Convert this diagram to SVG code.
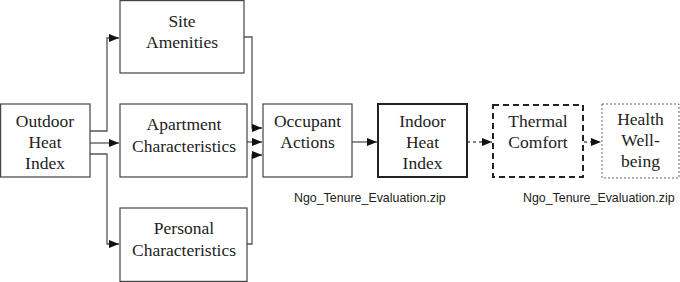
<svg xmlns="http://www.w3.org/2000/svg" width="680" height="282" viewBox="0 0 680 282">
<defs>
<marker id="ah" markerWidth="10" markerHeight="8" refX="10" refY="4" orient="auto" markerUnits="userSpaceOnUse">
<path d="M0,0 L10,4 L0,8 Z" fill="#111"/>
</marker>
<style>
.box{fill:#fff;stroke:#444;stroke-width:1.2}
.t{font-family:"Times New Roman","Liberation Serif",Tinos,"DejaVu Serif",serif;font-size:17.5px;fill:#222;text-anchor:middle}
.w{font-family:"Liberation Sans",Arial,sans-serif;font-size:12.4px;fill:#222}
.c{fill:none;stroke:#555;stroke-width:1.3}
.d{fill:none;stroke:#555;stroke-width:1.3;stroke-dasharray:3,3}
</style>
</defs>
<rect width="680" height="282" fill="#fff"/>
<g id="connectors">
<polyline class="c" points="90,131 107,131 107,38 119,38" marker-end="url(#ah)"/>
<polyline class="c" points="90,143 119,143" marker-end="url(#ah)"/>
<polyline class="c" points="90,154 107,154 107,244 119,244" marker-end="url(#ah)"/>
<polyline class="c" points="240,37 252,37 252,128 262,128" marker-end="url(#ah)"/>
<polyline class="c" points="239,142 262,142" marker-end="url(#ah)"/>
<polyline class="c" points="240,244 252,244 252,155 262,155" marker-end="url(#ah)"/>
<polyline class="c" points="352,142 377,142" marker-end="url(#ah)"/>
<polyline class="d" points="467,142 492,142" marker-end="url(#ah)"/>
<polyline class="d" points="584,142 601,142" marker-end="url(#ah)"/>
</g>
<g id="outdoor">
<rect class="box" x="0.6" y="104" width="89.4" height="73"/>
<text class="t" x="45" y="127">Outdoor</text>
<text class="t" x="45" y="148">Heat</text>
<text class="t" x="45" y="169">Index</text>
</g>
<g id="site">
<rect class="box" x="120" y="0.6" width="124" height="72.4"/>
<text class="t" x="182" y="27">Site</text>
<text class="t" x="182" y="48">Amenities</text>
</g>
<g id="apartment">
<rect class="box" x="120" y="104" width="127" height="73"/>
<text class="t" x="184" y="130">Apartment</text>
<text class="t" x="184" y="152">Characteristics</text>
</g>
<g id="personal">
<rect class="box" x="120" y="208" width="127" height="73.4"/>
<text class="t" x="184" y="234">Personal</text>
<text class="t" x="184" y="256">Characteristics</text>
</g>
<g id="occupant">
<rect class="box" x="263" y="104" width="89" height="73"/>
<text class="t" x="307.5" y="127">Occupant</text>
<text class="t" x="307.5" y="148">Actions</text>
</g>
<g id="indoor">
<rect x="378" y="104" width="89" height="73" fill="#fff" stroke="#222" stroke-width="2"/>
<text class="t" x="422.5" y="127">Indoor</text>
<text class="t" x="422.5" y="148">Heat</text>
<text class="t" x="422.5" y="169">Index</text>
</g>
<g id="thermal">
<rect x="493" y="105" width="90" height="72" fill="#fff" stroke="#222" stroke-width="2" stroke-dasharray="6,4"/>
<text class="t" x="538" y="127">Thermal</text>
<text class="t" x="538" y="148">Comfort</text>
</g>
<g id="health">
<rect x="602" y="104" width="77" height="74" fill="#fff" stroke="#666" stroke-width="1" stroke-dasharray="2,2"/>
<text class="t" x="640.5" y="125">Health</text>
<text class="t" x="640.5" y="146">Well-</text>
<text class="t" x="640.5" y="167">being</text>
</g>
<text class="w" x="294" y="202">Ngo_Tenure_Evaluation.zip</text>
<text class="w" x="523" y="202">Ngo_Tenure_Evaluation.zip</text>
</svg>
